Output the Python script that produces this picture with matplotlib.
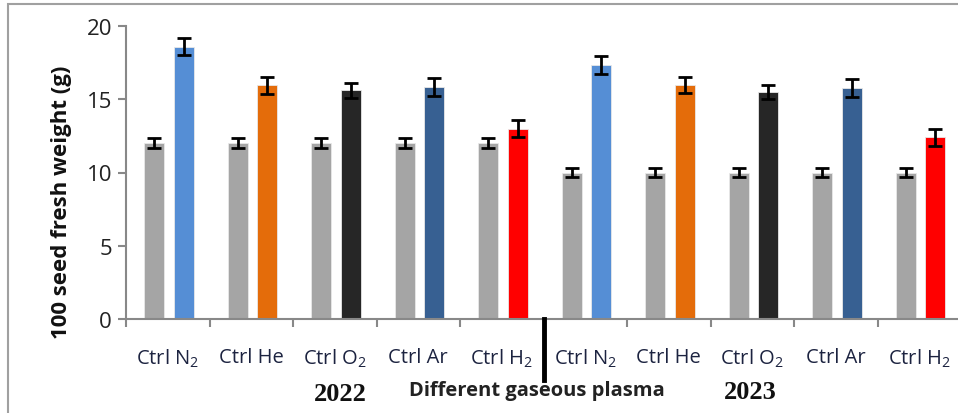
import numpy as np
import matplotlib
matplotlib.use("Agg")
import matplotlib.pyplot as plt
from matplotlib.patches import Rectangle
from matplotlib.lines import Line2D

plt.rcParams['font.family'] = ['Open Sans', 'DejaVu Sans']
plt.rcParams['mathtext.fontset'] = 'custom'
plt.rcParams['mathtext.rm'] = 'Open Sans'
plt.rcParams['mathtext.default'] = 'regular'

# data
labels = ["Ctrl N$_2$", "Ctrl He", "Ctrl O$_2$", "Ctrl Ar", "Ctrl H$_2$",
          "Ctrl N$_2$", "Ctrl He", "Ctrl O$_2$", "Ctrl Ar", "Ctrl H$_2$"]
ctrl = [12.0, 12.0, 12.0, 12.0, 12.0, 10.0, 10.0, 10.0, 10.0, 10.0]
ctrl_err = [0.35, 0.35, 0.35, 0.35, 0.35, 0.3, 0.3, 0.3, 0.3, 0.3]
treat = [18.6, 15.95, 15.6, 15.85, 13.0, 17.35, 15.95, 15.5, 15.75, 12.4]
treat_err = [0.6, 0.6, 0.5, 0.6, 0.6, 0.6, 0.55, 0.5, 0.6, 0.6]
gas_colors = ["#558ED5", "#E46C0A", "#262626", "#376092", "#FF0000"] * 2
ctrl_color = "#A5A5A5"

fig = plt.figure(figsize=(9.58, 4.14), dpi=100)
ax = fig.add_axes([126 / 958, 94 / 414, 835 / 958, 293 / 414])

x = np.arange(len(labels))
w = 0.24
ax.bar(x + 0.34, ctrl, w, color=ctrl_color, edgecolor="#e8e8e8", linewidth=0.6,
       yerr=ctrl_err, error_kw=dict(ecolor="black", elinewidth=2, capsize=5, capthick=2))
ax.bar(x + 0.69, treat, w, color=gas_colors, edgecolor="#e8e8e8", linewidth=0.6,
       yerr=treat_err, error_kw=dict(ecolor="black", elinewidth=2, capsize=5, capthick=2))

ax.set_xlim(0, 10)
ax.set_ylim(0, 20)
ax.set_yticks([0, 5, 10, 15, 20])
ax.tick_params(axis="y", labelsize=16, colors="#888888", labelcolor="#222222",
               length=6, width=1.5, direction="out", pad=4)

ax.set_xticks([t for t in range(10) if t != 5])
ax.set_xticklabels([])
ax.tick_params(axis="x", which="major", length=6, width=1.5, colors="#888888")
ax.set_xticks(x + 0.5, minor=True)
ax.set_xticklabels(labels, minor=True)
ax.tick_params(axis="x", which="minor", length=0, labelsize=14.5,
               labelcolor="#1c2340", pad=20)

for s in ["top", "right"]:
    ax.spines[s].set_visible(False)
for s in ["left", "bottom"]:
    ax.spines[s].set_color("#888888")
    ax.spines[s].set_linewidth(1.5)

ax.set_ylabel("100 seed fresh weight (g)", fontsize=16, fontweight="bold",
              color="#111111")
ax.yaxis.set_label_coords(-0.065, 0.40)

# divider between the two years
fig.add_artist(Line2D([544 / 958, 544 / 958], [(414 - 320) / 414, (414 - 381) / 414],
                      color="black", linewidth=3.5))

fig.text(340 / 958, (414 - 395) / 414, "2022", fontsize=19, fontweight="bold",
         family="Liberation Serif", ha="center", va="center", color="#111111")
fig.text(750 / 958, (414 - 393) / 414, "2023", fontsize=19, fontweight="bold",
         family="Liberation Serif", ha="center", va="center", color="#111111")
fig.text(537 / 958, (414 - 391) / 414, "Different gaseous plasma", fontsize=14.5,
         fontweight="bold", ha="center", va="center", color="#222222")

# outer frame
fig.add_artist(Rectangle((8 / 958, -0.1), 1.2, (414 - 5) / 414 + 0.1,
                         transform=fig.transFigure, fill=False,
                         edgecolor="#a0a0a0", linewidth=1.5))

fig.savefig("out.png", dpi=100)
